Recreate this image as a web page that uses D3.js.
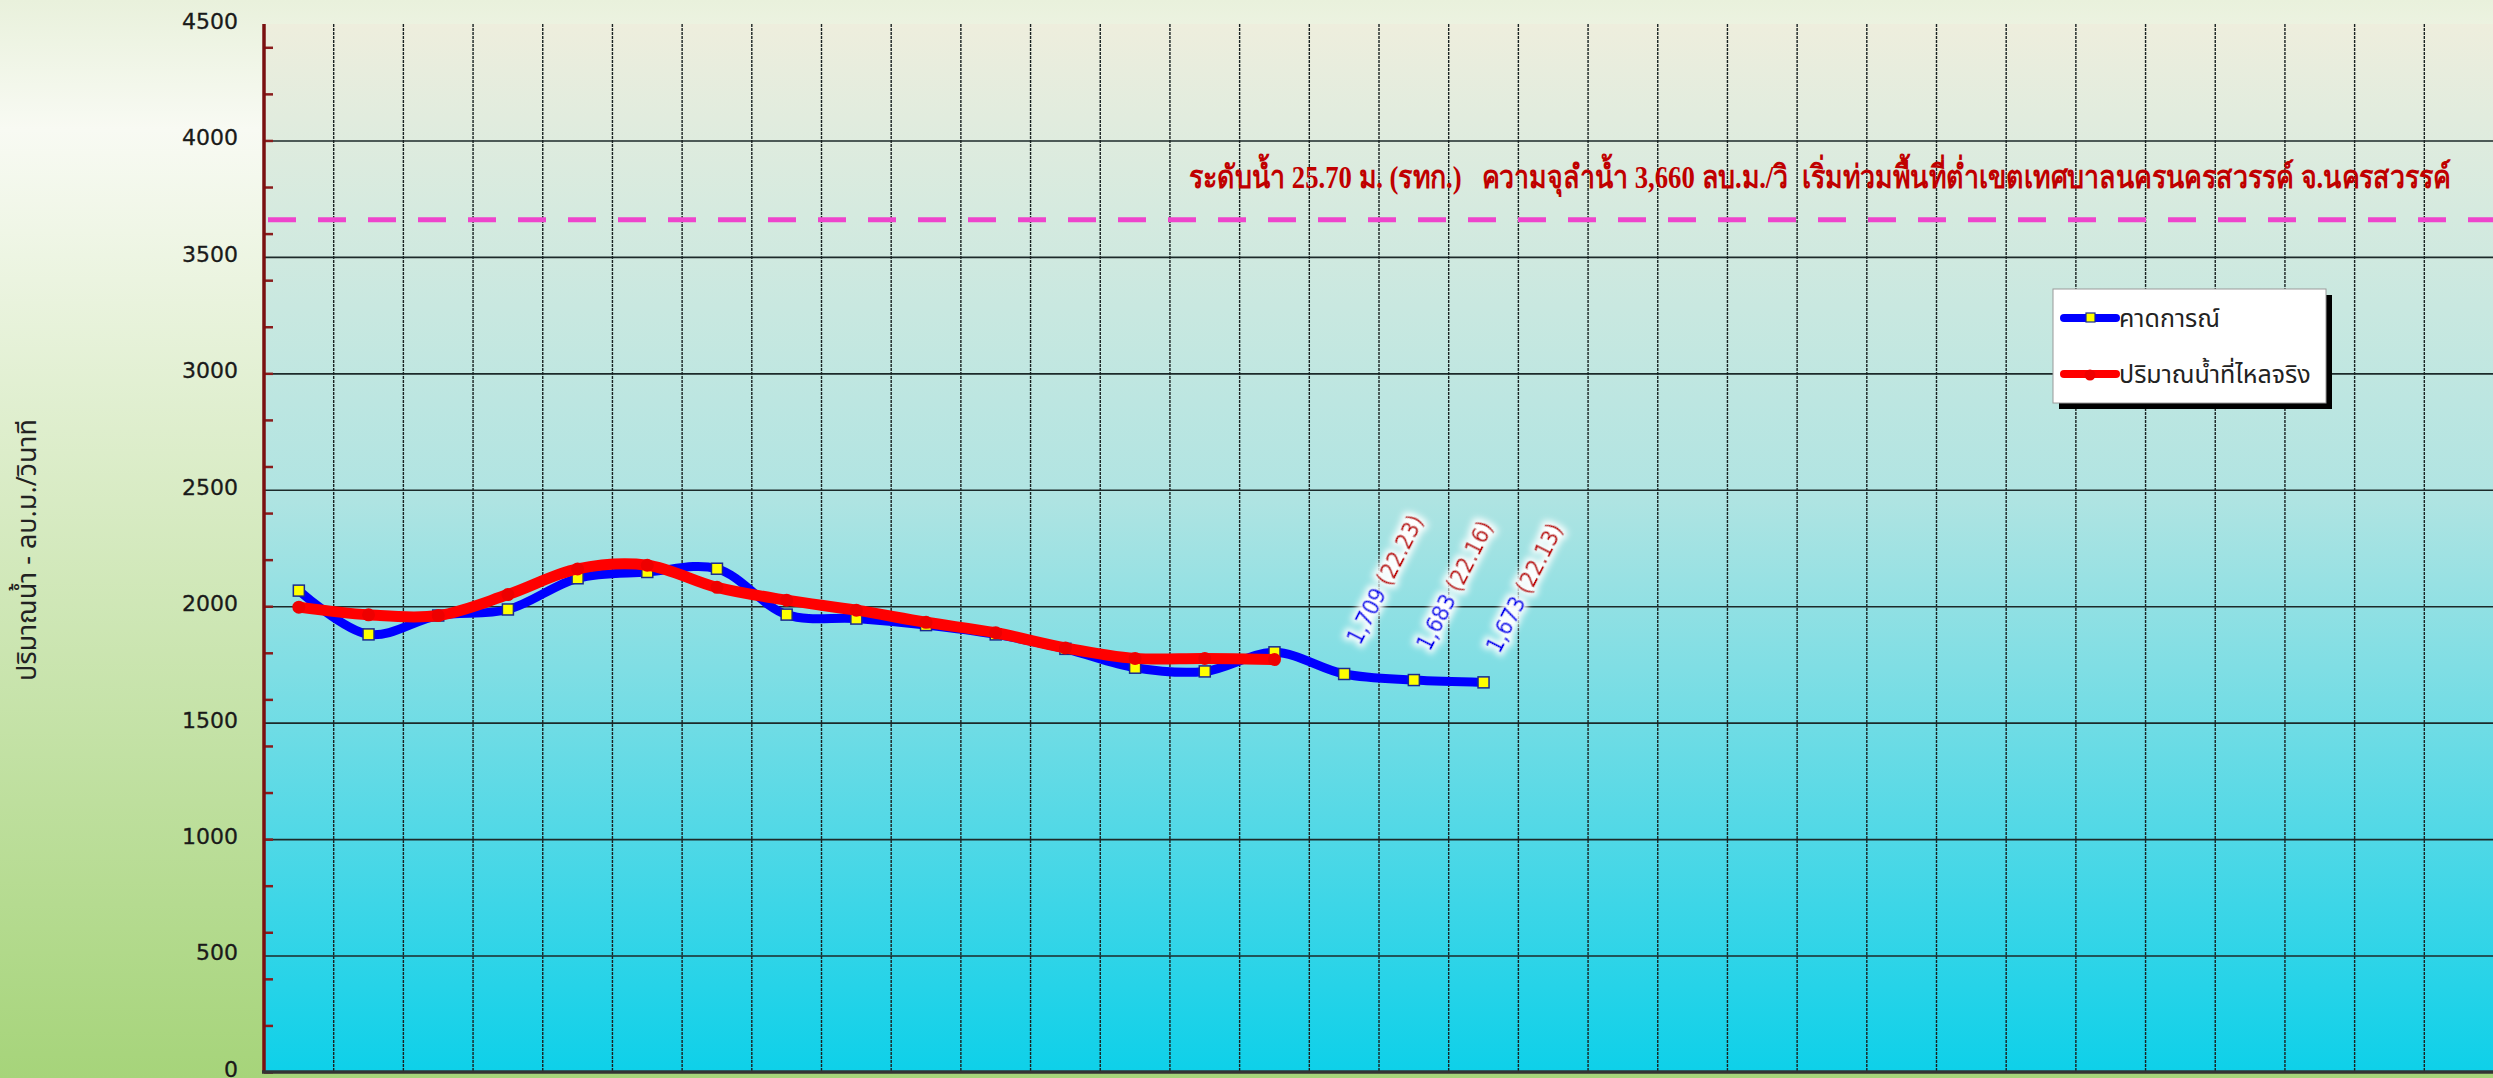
<!DOCTYPE html>
<html>
  <head lang="th">
    <meta charset="utf-8">
    <title>ปริมาณน้ำ</title>
    <script type="text/javascript" src="https://cdn.jsdelivr.net/npm/d3@7"></script>
    <style>
      body { margin: 0; overflow: hidden; }
      svg { display: block; }
    </style>
  </head>
  <body>
    <script type="text/javascript">

      // days shown on the x axis (32 slots, labels are not drawn)
      var days = ["1", "2", "3", "4", "5", "6", "7", "8", "9", "10", "11", "12", "13", "14", "15", "16",
                  "17", "18", "19", "20", "21", "22", "23", "24", "25", "26", "27", "28", "29", "30", "31", "32"];

      // forecast and measured flow, m3/s
      var forecast = [2067, 1879, 1960, 1986, 2120, 2147, 2161, 1964, 1947, 1919, 1879, 1817, 1736, 1720, 1802, 1709, 1683, 1673];
      var measured = [1996, 1963, 1960, 2050, 2160, 2176, 2081, 2026, 1983, 1931, 1886, 1821, 1776, 1776, 1771];

      // water level (m.) shown next to the last three forecast values
      var levels = ["22.23", "22.16", "22.13"];

      var yTicks = [0, 500, 1000, 1500, 2000, 2500, 3000, 3500, 4000, 4500];
      var criticalFlow = 3660;
      var criticalText = "ระดับน้ำ 25.70 ม. (รทก.)   ความจุลำน้ำ 3,660 ลบ.ม./วิ  เริ่มท่วมพื้นที่ต่ำเขตเทศบาลนครนครสวรรค์ จ.นครสวรรค์";
      var yTitle = "ปริมาณน้ำ - ลบ.ม./วินาที";
      var seriesNames = ["คาดการณ์", "ปริมาณน้ำที่ไหลจริง"];

      // size and margins
      var width = 2493, height = 1078;
      var margin = {top: 24, right: 0, bottom: 6, left: 264};
      var plotRight = 2494;
      var plotBottom = height - margin.bottom;

      var svg = d3.select("body")
                  .append("svg")
                  .attr("width", width)
                  .attr("height", height);

      var defs = svg.append("defs");

      // page background gradient
      var pageGrad = defs.append("linearGradient")
                         .attr("id", "pageGrad")
                         .attr("x1", 0).attr("y1", 0).attr("x2", 0).attr("y2", 1);
      pageGrad.append("stop").attr("offset", "0").attr("stop-color", "#e9f1dc");
      pageGrad.append("stop").attr("offset", "0.12").attr("stop-color", "#f8faf3");
      pageGrad.append("stop").attr("offset", "1").attr("stop-color", "#a6d47a");

      // plot area gradient
      var plotGrad = defs.append("linearGradient")
                         .attr("id", "plotGrad")
                         .attr("x1", 0).attr("y1", 0).attr("x2", 0).attr("y2", 1);
      plotGrad.append("stop").attr("offset", "0").attr("stop-color", "#eeeedd");
      plotGrad.append("stop").attr("offset", "0.45").attr("stop-color", "#b0e4e2");
      plotGrad.append("stop").attr("offset", "1").attr("stop-color", "#0ed0e9");

      // white glow behind the data labels
      var glow = defs.append("filter").attr("id", "glow")
                     .attr("x", "-20%").attr("y", "-40%").attr("width", "140%").attr("height", "180%");
      glow.append("feMorphology").attr("in", "SourceAlpha").attr("operator", "dilate").attr("radius", 3).attr("result", "d");
      glow.append("feGaussianBlur").attr("in", "d").attr("stdDeviation", 3).attr("result", "b");
      glow.append("feFlood").attr("flood-color", "#ffffff").attr("flood-opacity", 1);
      glow.append("feComposite").attr("in2", "b").attr("operator", "in").attr("result", "w");
      var merge = glow.append("feMerge");
      merge.append("feMergeNode").attr("in", "w");
      merge.append("feMergeNode").attr("in", "SourceGraphic");

      svg.append("rect")
         .attr("width", width)
         .attr("height", height)
         .attr("fill", "url(#pageGrad)");

      // scales
      var x = d3.scaleBand()
                .domain(days)
                .range([margin.left, plotRight]);

      var y = d3.scaleLinear()
                .domain([0, 4500])
                .range([plotBottom, margin.top]);

      var cx = function(i) { return x(days[i]) + x.bandwidth() / 2; };

      svg.append("rect")
         .attr("x", margin.left)
         .attr("y", margin.top)
         .attr("width", plotRight - margin.left)
         .attr("height", plotBottom - margin.top)
         .attr("fill", "url(#plotGrad)");

      // horizontal grid
      svg.append("g")
         .attr("transform", "translate(" + margin.left + ",0)")
         .call(d3.axisLeft(y).tickValues(yTicks.slice(1, -1)).tickSize(-(plotRight - margin.left)).tickFormat(""))
         .call(function(g) { g.select(".domain").remove(); })
         .selectAll("line")
         .attr("stroke", "#1c2a2a")
         .attr("stroke-width", 1.6);

      // vertical grid at band edges
      svg.append("g")
         .selectAll("line")
         .data(days.slice(1))
         .enter()
         .append("line")
         .attr("x1", function(d) { return x(d); })
         .attr("x2", function(d) { return x(d); })
         .attr("y1", margin.top)
         .attr("y2", plotBottom)
         .attr("stroke", "#1a2222")
         .attr("stroke-width", 1.4)
         .attr("stroke-dasharray", "3,1");

      // critical flow line
      svg.append("line")
         .attr("x1", margin.left + 4)
         .attr("x2", plotRight)
         .attr("y1", y(criticalFlow))
         .attr("y2", y(criticalFlow))
         .attr("stroke", "#ee44cc")
         .attr("stroke-width", 5)
         .attr("stroke-dasharray", "28,22");

      svg.append("text")
         .attr("x", 1189)
         .attr("y", 188)
         .attr("textLength", 1262)
         .attr("lengthAdjust", "spacingAndGlyphs")
         .style("font-family", "'Liberation Serif', 'DejaVu Serif', serif")
         .style("font-weight", "bold")
         .style("font-size", "32px")
         .attr("fill", "#c00000")
         .style("white-space", "pre")
         .text(criticalText);

      // y axis
      var yAxis = svg.append("g")
                     .attr("transform", "translate(" + margin.left + ",0)")
                     .call(d3.axisRight(y).ticks(18).tickSize(9).tickFormat(""));
      yAxis.select(".domain").remove();
      yAxis.selectAll("line").attr("stroke", "#8a1c1c").attr("stroke-width", 2.5);

      svg.append("line")
         .attr("x1", margin.left).attr("x2", margin.left)
         .attr("y1", margin.top).attr("y2", plotBottom)
         .attr("stroke", "#7a1010")
         .attr("stroke-width", 3.5);

      svg.append("line")
         .attr("x1", margin.left - 2).attr("x2", plotRight)
         .attr("y1", plotBottom).attr("y2", plotBottom)
         .attr("stroke", "#333333")
         .attr("stroke-width", 3.5);

      svg.append("g")
         .selectAll("text")
         .data(yTicks)
         .enter()
         .append("text")
         .attr("x", 238)
         .attr("y", function(d) { return y(d) - 3; })
         .attr("dy", "0.36em")
         .attr("text-anchor", "end")
         .style("font-family", "'DejaVu Sans', sans-serif")
         .style("font-size", "22px")
         .attr("fill", "#1a1a1a")
         .attr("stroke", "#1a1a1a")
         .attr("stroke-width", 0.3)
         .text(function(d) { return d; });

      svg.append("text")
         .attr("transform", "translate(36," + 550 + ") rotate(-90)")
         .attr("text-anchor", "middle")
         .style("font-family", "'Noto Sans Thai', Tahoma, 'Noto Sans', sans-serif")
         .style("font-size", "27px")
         .attr("fill", "#222222")
         .text(yTitle);

      // lines
      var line = d3.line()
                   .x(function(d, i) { return cx(i); })
                   .y(function(d) { return y(d); })
                   .curve(d3.curveCatmullRom.alpha(0.5));

      svg.append("path")
         .datum(forecast)
         .attr("d", line)
         .attr("fill", "none")
         .attr("stroke", "#0000ff")
         .attr("stroke-width", 9)
         .attr("stroke-linejoin", "round")
         .attr("stroke-linecap", "round");

      svg.append("g")
         .selectAll("rect")
         .data(forecast)
         .enter()
         .append("rect")
         .attr("x", function(d, i) { return cx(i) - 5.5; })
         .attr("y", function(d) { return y(d) - 5.5; })
         .attr("width", 11)
         .attr("height", 11)
         .attr("fill", "#ffff00")
         .attr("stroke", "#1a2a90")
         .attr("stroke-width", 1.5);

      svg.append("path")
         .datum(measured)
         .attr("d", line)
         .attr("fill", "none")
         .attr("stroke", "#ff0000")
         .attr("stroke-width", 11)
         .attr("stroke-linejoin", "round")
         .attr("stroke-linecap", "round");

      svg.append("g")
         .selectAll("circle")
         .data(measured)
         .enter()
         .append("circle")
         .attr("cx", function(d, i) { return cx(i); })
         .attr("cy", function(d) { return y(d); })
         .attr("r", 6.5)
         .attr("fill", "#ee0000");

      // rotated labels on the last forecast points
      var first = forecast.length - levels.length;
      svg.append("g")
         .selectAll("text")
         .data(levels)
         .enter()
         .append("text")
         .attr("transform", function(d, i) {
            var k = first + i;
            return "translate(" + (cx(k) + 16) + "," + (y(forecast[k]) - 28) + ") rotate(-63)";
         })
         .attr("filter", "url(#glow)")
         .style("font-family", "'DejaVu Sans Condensed', 'DejaVu Sans', sans-serif")
         .style("font-stretch", "condensed")
         .style("font-size", "23px")
         .each(function(d, i) {
            var t = d3.select(this);
            t.append("tspan").attr("fill", "#0000ee").attr("stroke", "#0000ee").attr("stroke-width", 0.5)
             .text(d3.format(",")(forecast[first + i]) + " ");
            t.append("tspan").attr("fill", "#c01010").attr("stroke", "#c01010").attr("stroke-width", 0.4)
             .text("(" + d + ")");
         });

      // legend
      var legend = svg.append("g").attr("transform", "translate(2053,289)");
      legend.append("rect")
            .attr("x", 6).attr("y", 6)
            .attr("width", 273).attr("height", 114)
            .attr("fill", "#000000");
      legend.append("rect")
            .attr("width", 273).attr("height", 114)
            .attr("fill", "#ffffff")
            .attr("stroke", "#9a9a9a")
            .attr("stroke-width", 1);

      var colors = ["#0000ff", "#ff0000"];
      seriesNames.forEach(function(name, i) {
        var ly = 29 + i * 56;
        legend.append("line")
              .attr("x1", 11).attr("x2", 63)
              .attr("y1", ly).attr("y2", ly)
              .attr("stroke", colors[i])
              .attr("stroke-width", 8)
              .attr("stroke-linecap", "round");
        if (i == 0) {
          legend.append("rect")
                .attr("x", 33).attr("y", ly - 5)
                .attr("width", 9).attr("height", 9)
                .attr("fill", "#ffff00")
                .attr("stroke", "#1a2a90")
                .attr("stroke-width", 1.2);
        } else {
          legend.append("circle")
                .attr("cx", 37).attr("cy", ly + 1)
                .attr("r", 5.5)
                .attr("fill", "#ee0000");
        }
        legend.append("text")
              .attr("x", 66)
              .attr("y", ly + 9)
              .style("font-family", "'Noto Sans Thai', Tahoma, 'Noto Sans', sans-serif")
              .style("font-size", "25px")
              .attr("fill", "#222222")
              .text(name);
      });

    </script>
  </body>
</html>
